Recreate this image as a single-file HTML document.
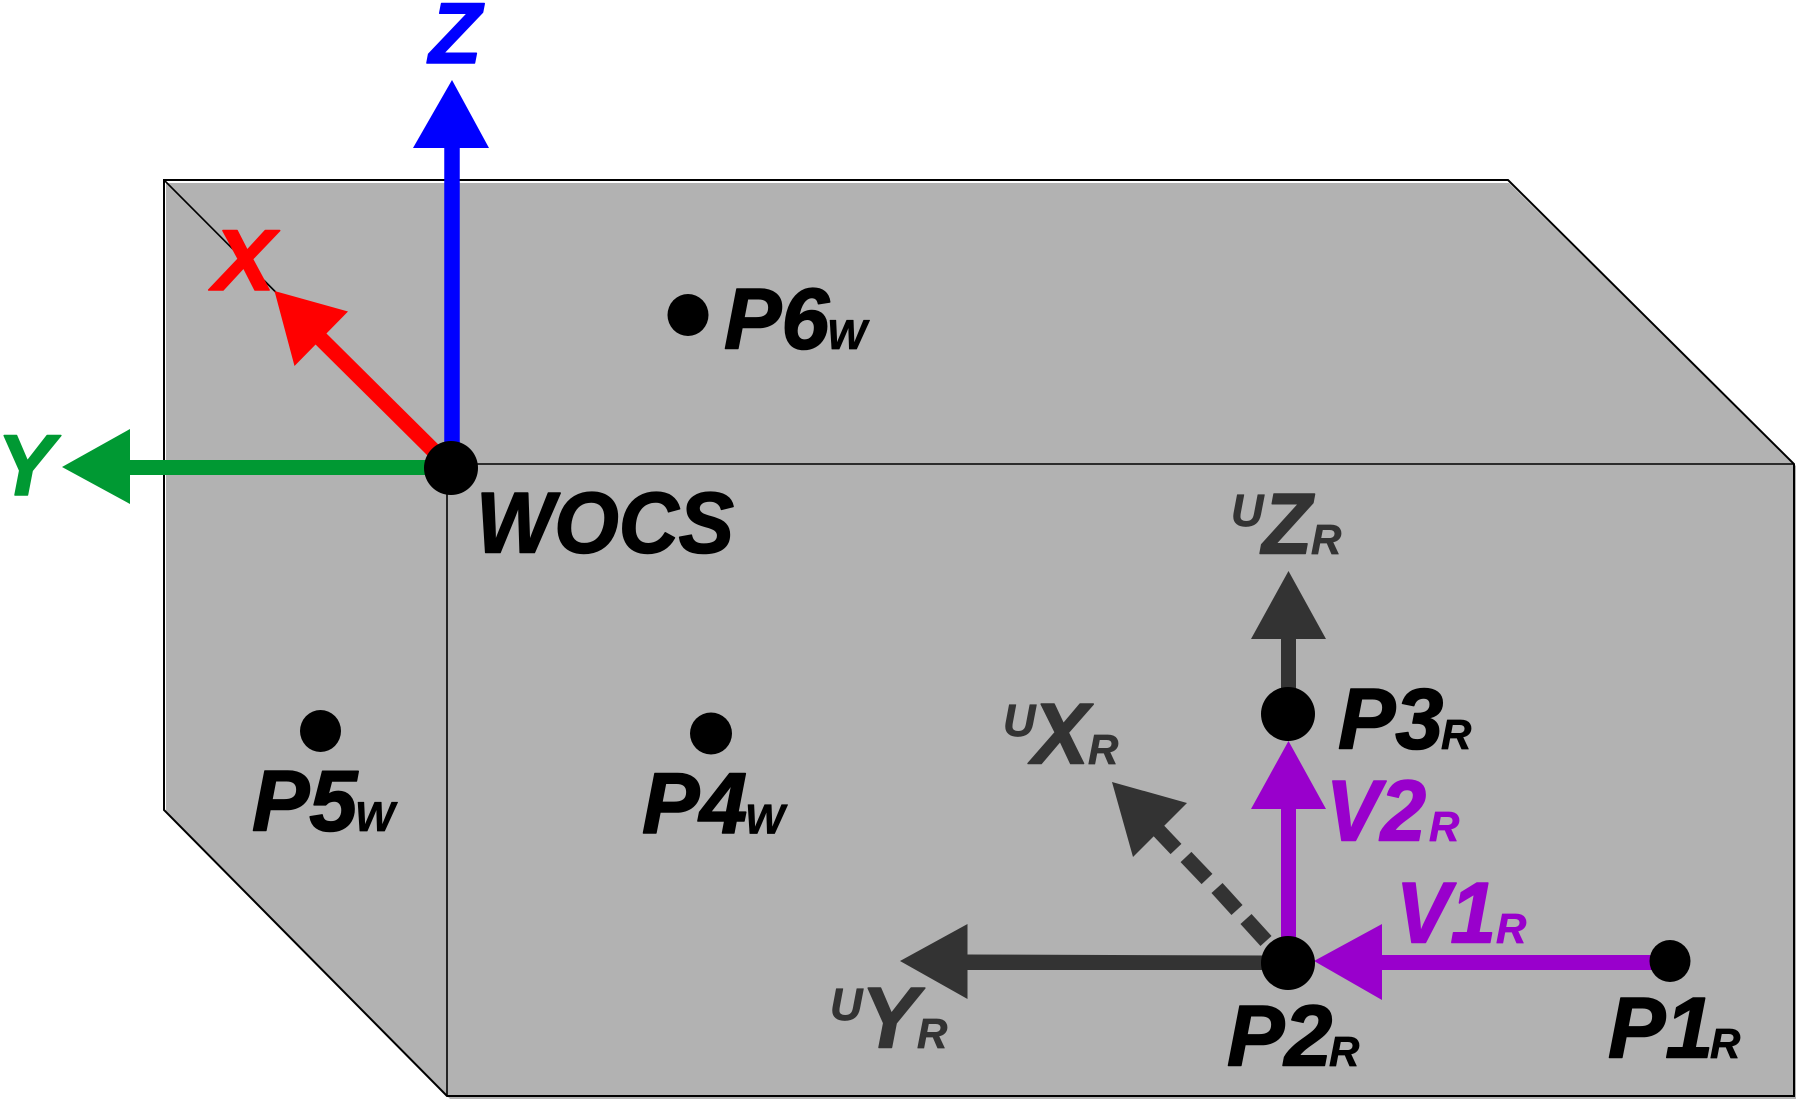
<!DOCTYPE html>
<html><head><meta charset="utf-8"><style>
html,body{margin:0;padding:0;background:#fff}
svg{display:block}
text{font-family:"Liberation Sans",sans-serif;font-weight:bold;font-style:italic;fill:currentColor;stroke:currentColor;stroke-linejoin:round}
.b{font-size:86px;stroke-width:1.6px}.s{font-size:42px;stroke-width:.7px}.u{font-size:45px;stroke-width:.7px}
</style></head><body>
<svg width="1798" height="1100" viewBox="0 0 1798 1100" xmlns="http://www.w3.org/2000/svg">
<polygon points="166,183 1509,183 1796,466 1796,1099 450,1099 166,811" fill="#b2b2b2"/>
<polygon points="164,180 1508,180 1794,464 1794,1096 447,1096 164,810" fill="none" stroke="#000" stroke-width="2"/>
<polyline points="164,180 447,464 1794,464" fill="none" stroke="#000" stroke-width="1.6"/>
<line x1="447" y1="464" x2="447" y2="1096" stroke="#000" stroke-width="1.6"/>

<line x1="452" y1="147" x2="452" y2="450" stroke="#0000ff" stroke-width="15.5"/>
<polygon points="452,80 489,148 413,148" fill="#0000ff"/>
<line x1="320" y1="338" x2="445" y2="462" stroke="#ff0000" stroke-width="15.5"/>
<polygon points="274.5,291 348,311.5 294.5,366" fill="#ff0000"/>
<rect x="130" y="460" width="300" height="15" fill="#009933"/>
<polygon points="62,467 130,429 130,504" fill="#009933"/>
<ellipse cx="451" cy="468" rx="27" ry="27" fill="#000"/>

<text class="b" x="429" y="63" color="#0000ff">Z</text>
<text class="b" x="213" y="290" color="#ff0000" textLength="62" lengthAdjust="spacingAndGlyphs">X</text>
<text class="b" x="-3" y="495" color="#009933">Y</text>

<ellipse cx="688" cy="315" rx="20.5" ry="21" fill="#000"/>
<text class="b" x="724" y="348.5" color="#000">P6</text><text class="s" x="827" y="349" color="#000">W</text>
<ellipse cx="320.5" cy="731" rx="20.5" ry="21" fill="#000"/>
<text class="b" x="252" y="830.5" color="#000">P5</text><text class="s" x="355" y="831" color="#000">W</text>
<ellipse cx="711" cy="733.5" rx="21" ry="21" fill="#000"/>
<text class="b" x="642" y="833" color="#000">P4</text><text class="s" x="745" y="833.5" color="#000">W</text>
<text class="b" x="476" y="552.5" color="#000" textLength="258" lengthAdjust="spacingAndGlyphs">WOCS</text>

<line x1="1288.5" y1="639" x2="1288.5" y2="700" stroke="#333" stroke-width="15"/>
<polygon points="1288.5,571 1326,639 1251,639" fill="#333"/>
<polygon points="900,961 967.5,924 967.5,999" fill="#333"/>
<polygon points="967,954.5 1270,955.5 1270,970 967,970" fill="#333"/>
<polygon points="1112,782 1187,803 1133,857" fill="#333"/>
<g stroke="#333" stroke-width="15">
<line x1="1158" y1="830" x2="1176" y2="849"/>
<line x1="1186" y1="857" x2="1207" y2="879"/>
<line x1="1217" y1="888" x2="1237" y2="910"/>
<line x1="1246" y1="919" x2="1266" y2="941"/>
</g>

<line x1="1288.5" y1="809" x2="1288.5" y2="950" stroke="#9900cc" stroke-width="15"/>
<polygon points="1288.5,741 1326,809 1251,809" fill="#9900cc"/>
<rect x="1382" y="955" width="280" height="15" fill="#9900cc"/>
<polygon points="1314,961 1382,924 1382,1000" fill="#9900cc"/>

<ellipse cx="1288" cy="714" rx="27" ry="27" fill="#000"/>
<ellipse cx="1288" cy="963" rx="27" ry="27" fill="#000"/>
<ellipse cx="1670" cy="961" rx="20.5" ry="21" fill="#000"/>

<text class="b" x="1338" y="748.5" color="#000">P3</text><text class="s" x="1441" y="749" color="#000">R</text>
<text class="b" x="1227" y="1065.5" color="#000">P2</text><text class="s" x="1329" y="1066" color="#000">R</text>
<text class="b" x="1608" y="1057.5" color="#000">P1</text><text class="s" x="1710" y="1058" color="#000">R</text>
<text class="b" x="1326" y="840.5" color="#9900cc" textLength="100" lengthAdjust="spacingAndGlyphs">V2</text><text class="s" x="1429" y="841" color="#9900cc">R</text>
<text class="b" x="1396" y="942.5" color="#9900cc" textLength="100" lengthAdjust="spacingAndGlyphs">V1</text><text class="s" x="1496" y="943" color="#9900cc">R</text>

<g color="#333">
<text class="u" x="1231" y="526">U</text><text class="b" x="1262" y="553.5" textLength="50" lengthAdjust="spacingAndGlyphs">Z</text><text class="s" x="1311" y="554">R</text>
<text class="u" x="1003" y="736">U</text><text class="b" x="1032" y="763.5" textLength="57" lengthAdjust="spacingAndGlyphs">X</text><text class="s" x="1088" y="764">R</text>
<text class="u" x="830" y="1020">U</text><text class="b" x="861" y="1047.5">Y</text><text class="s" x="917" y="1048">R</text>
</g>
</svg>
</body></html>
